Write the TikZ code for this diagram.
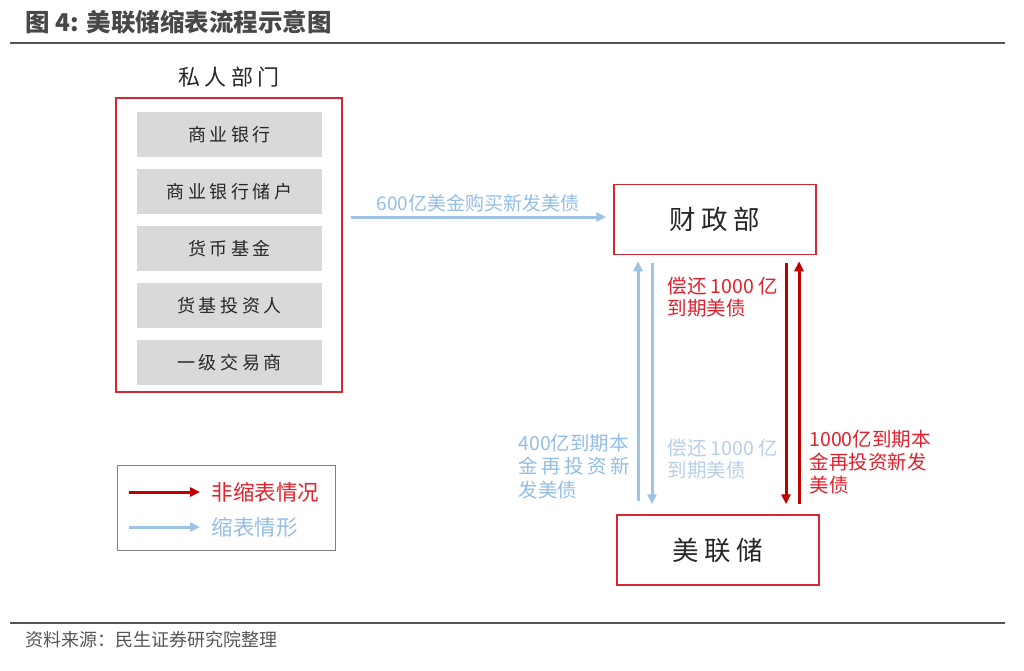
\documentclass[tikz,border=0pt]{standalone}
\usepackage{fontspec}
\setmainfont{Noto Sans CJK SC}
\newfontfamily\kai[LetterSpace=20]{Noto Sans CJK SC}
\usepackage{tikz}
\usetikzlibrary{positioning}
\usetikzlibrary{arrows.meta}

\definecolor{boxred}{HTML}{D42832}
\definecolor{arrowred}{HTML}{C00000}
\definecolor{textred}{HTML}{E0202C}
\definecolor{arrowblue}{HTML}{9DC3E6}
\definecolor{textblue}{HTML}{94BDE4}
\definecolor{paleblue}{HTML}{B8CFE6}
\definecolor{barfill}{HTML}{D9D9D9}
\definecolor{darktext}{HTML}{262626}
\definecolor{rulegray}{HTML}{555555}

\newcommand{\spreadline}[2]{\makebox[#1][s]{#2}}

\begin{document}
\begin{tikzpicture}[
            x = 1pt, y = -1pt, % reference pixel grid
            > = {Triangle[length=10pt,width=9pt]}, % arrow head style
            node distance = 9pt, % gap between stacked bars
            line width = 3pt
        ]

        \tikzset{
            title/.style = {font=\bfseries\fontsize{24.5}{24.5}\selectfont, text=rulegray!85!black, inner sep=0pt},
            privbox/.style = {draw=boxred, line width=1.5pt, minimum width=226pt, minimum height=294pt},
            bar/.style = {fill=barfill, minimum width=185pt, minimum height=45pt, inner sep=0pt,
                font=\kai\fontsize{18}{18}\selectfont, text=darktext},
            agency/.style = {draw=boxred, line width=1.5pt, minimum width=202pt, minimum height=70pt,
                font=\kai\fontsize{26.5}{26.5}\selectfont, text=darktext},
            label/.style = {font=\fontsize{19.5}{22}\selectfont, align=left, inner sep=0pt, anchor=west},
            legendbox/.style = {draw=gray, line width=1pt, minimum width=218pt, minimum height=85pt},
            legendtext/.style = {font=\fontsize{21.5}{21.5}\selectfont, inner sep=0pt, anchor=west},
            redflow/.style = {draw=arrowred, ->},
            blueflow/.style = {draw=arrowblue, ->}
        }

        \useasboundingbox (0,0) rectangle (1024,670);

	% heading
        \node[title, anchor=west] (title) at (24,22) {图 4: 美联储缩表流程示意图};
        \draw[rulegray, line width=2.5pt] (10,43) -- (1005,43);

	% private sector
        \node[privbox] (priv) at (229,245) {};
        \node[font=\kai\fontsize{22}{22}\selectfont, text=darktext, above=5pt of priv] (privtitle) {私人部门};
        \node[bar] (bank) at (229.5,134.5) {商业银行};
        \node[bar, below=of bank] (deposit) {商业银行储户};
        \node[bar, below=of deposit] (mmf) {货币基金};
        \node[bar, below=of mmf] (mmfinv) {货基投资人};
        \node[bar, below=of mmfinv] (dealer) {一级交易商};

	% treasury and fed
        \node[agency] (mof) at (715,219.5) {财政部};
        \node[agency] (fed) at (718,550) {美联储};

        \draw[blueflow, shorten <=8pt, shorten >=7pt] ([yshift=2.5pt]priv.east |- mof.west) -- ([yshift=2.5pt]mof.west)
            node[midway, above=3pt, font=\fontsize{19}{19}\selectfont, text=textblue, inner sep=0pt] (buylabel) {600亿美金购买新发美债};

        \draw[blueflow, shorten <=13pt, shorten >=6pt] ([xshift=-80pt]fed.north) -- ([xshift=-80pt]fed.north |- mof.south);
        \draw[blueflow, shorten <=8pt, shorten >=10pt] ([xshift=-66pt]fed.north |- mof.south) -- ([xshift=-66pt]fed.north);
        \draw[redflow, shorten <=8pt, shorten >=10pt] ([xshift=68pt]fed.north |- mof.south) -- ([xshift=68pt]fed.north);
        \draw[redflow, shorten <=10pt, shorten >=6pt] ([xshift=81pt]fed.north) -- ([xshift=81pt]fed.north |- mof.south);

        \node[label, text=textred] (repayred) at (666,297.5) {偿还 1000 亿\\到期美债};
        \node[label, text=textblue, font=\fontsize{19.5}{23.5}\selectfont] (rollblue) at (517,466.5)
            {400亿到期本\\\spreadline{111pt}{金\hfill 再\hfill 投\hfill 资\hfill 新}\\发美债};
        \node[label, text=paleblue] (repayblue) at (666,459.5) {偿还 1000 亿\\到期美债};
        \node[label, text=textred, font=\fontsize{19.5}{23}\selectfont] (rollred) at (808,462)
            {1000亿到期本\\金再投资新发\\美债};

	% legend
        \node[legendbox] (legend) at (226,507.5) {};
        \node[legendtext, text=textred] (redkey) at (210,492) {非缩表情况};
        \node[legendtext, text=textblue] (bluekey) at (210,527) {缩表情形};
        \coordinate (redtail) at (129,492);
        \coordinate (bluetail) at (129,527);
        \draw[redflow, shorten >=10pt] (redtail) -- (redkey.west);
        \draw[blueflow, shorten >=10pt] (bluetail) -- (bluekey.west);

	% source
        \draw[rulegray, line width=2.5pt] (10,623) -- (1005,623);
        \node[anchor=west, inner sep=0pt, font=\fontsize{18}{18}\selectfont, text=rulegray] (source) at (24,640) {资料来源：民生证券研究院整理};

  \end{tikzpicture}
\end{document}
